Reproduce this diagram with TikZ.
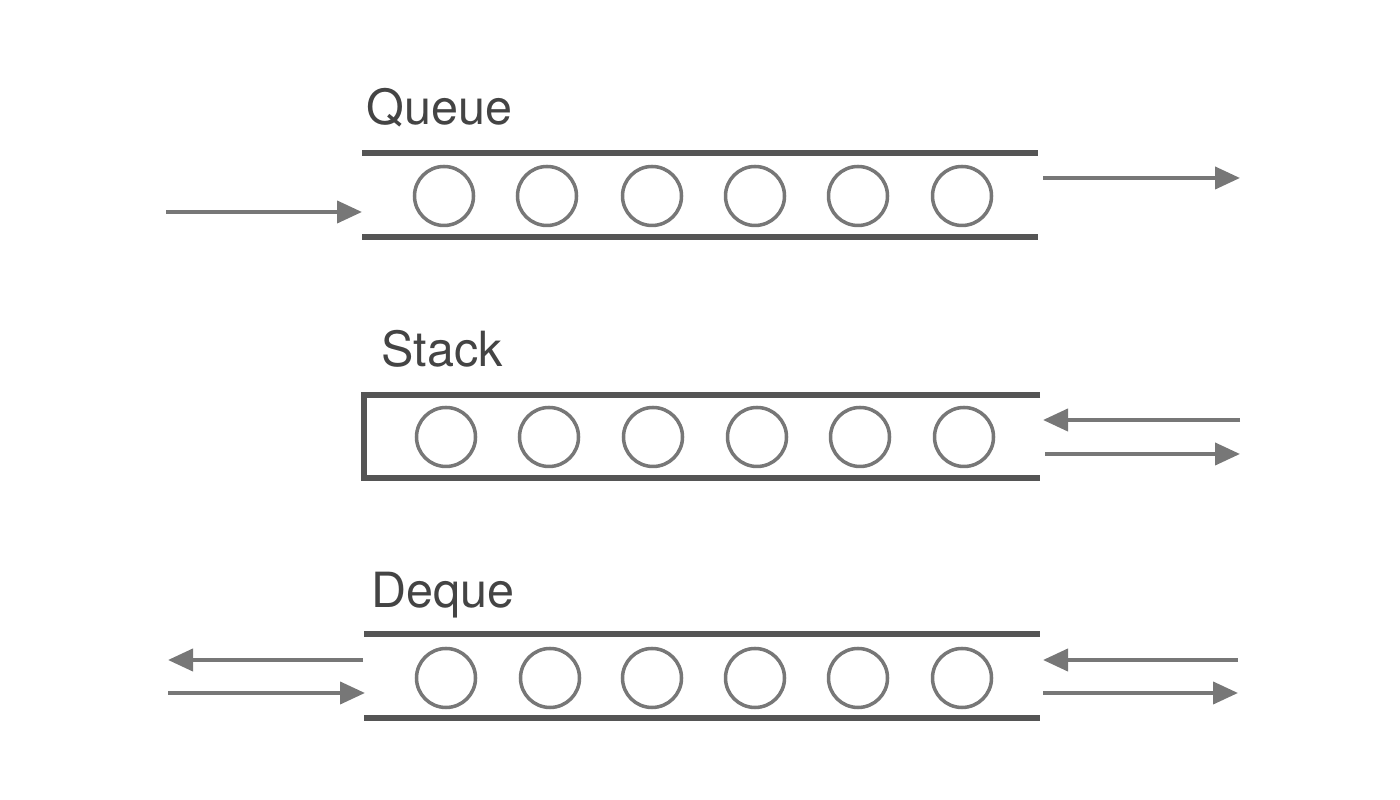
\documentclass[tikz,border=0pt]{standalone}
\usepackage{fontspec}
\setmainfont{TeX Gyre Heros}
\usetikzlibrary{arrows.meta}

\definecolor{wallgray}{HTML}{555555}
\definecolor{itemgray}{HTML}{777777}
\definecolor{labelgray}{HTML}{444444}

\tikzset{
  wall/.style={draw=wallgray, line width=1.7pt},
  item/.style={shape=circle, draw=itemgray, line width=1pt, minimum size=0.59cm, inner sep=0pt},
  flow/.style={draw=itemgray, line width=1.15pt, -{Triangle[length=2.5mm,width=2.2mm]}},
  title/.style={anchor=base west, text=labelgray, font=\fontsize{13.8}{16}\selectfont, inner sep=0pt}
}

\begin{document}
\begin{tikzpicture}
%%%%%%%%%%%%%%%%%%%%%%%%%%%%%%%%%%%%%%%%%%% HELP LINES
%\draw[help lines] (0,0) grid +(14,8);
\useasboundingbox (0,0) rectangle (14,8);

%%%%%%%%%%%%%%%%%%%%%%%%%%%%%%%%%%%%%%%%%%% queue
\node[title](queuelabel) at (3.66,6.75) {Queue};
\draw[wall] (3.62,6.47) -- (10.38,6.47);
\draw[wall] (3.62,5.63) -- (10.38,5.63);
\foreach \x [count=\i] in {4.44,5.47,6.52,7.55,8.58,9.62}
  \node[item](q\i) at (\x,6.04) {};
\coordinate (qinstart) at (1.66,5.88);
\coordinate (qinend) at (3.62,5.88);
\coordinate (qoutstart) at (10.43,6.22);
\coordinate (qoutend) at (12.40,6.22);
\draw[flow] (qinstart) -- (qinend);
\draw[flow] (qoutstart) -- (qoutend);

%%%%%%%%%%%%%%%%%%%%%%%%%%%%%%%%%%%%%%%%%%% stack
\node[title](stacklabel) at (3.81,4.33) {Stack};
\draw[wall] (10.40,4.05) -- (3.64,4.05) -- (3.64,3.22) -- (10.40,3.22);
\foreach \x [count=\i] in {4.46,5.49,6.53,7.57,8.60,9.64}
  \node[item](s\i) at (\x,3.63) {};
\coordinate (spushstart) at (12.40,3.80);
\coordinate (spushend) at (10.43,3.80);
\coordinate (spopstart) at (10.45,3.46);
\coordinate (spopend) at (12.40,3.46);
\draw[flow] (spushstart) -- (spushend);
\draw[flow] (spopstart) -- (spopend);

%%%%%%%%%%%%%%%%%%%%%%%%%%%%%%%%%%%%%%%%%%% deque
\node[title](dequelabel) at (3.71,1.92) {Deque};
\draw[wall] (3.64,1.66) -- (10.40,1.66);
\draw[wall] (3.64,0.82) -- (10.40,0.82);
\foreach \x [count=\i] in {4.46,5.50,6.52,7.55,8.58,9.62}
  \node[item](d\i) at (\x,1.22) {};
\coordinate (dleftin) at (3.63,1.40);
\coordinate (dleftout) at (1.68,1.40);
\coordinate (dleftfrom) at (1.68,1.07);
\coordinate (dleftto) at (3.65,1.07);
\coordinate (drightin) at (12.38,1.40);
\coordinate (drightout) at (10.43,1.40);
\coordinate (drightfrom) at (10.43,1.07);
\coordinate (drightto) at (12.38,1.07);
\draw[flow] (dleftin) -- (dleftout);
\draw[flow] (dleftfrom) -- (dleftto);
\draw[flow] (drightin) -- (drightout);
\draw[flow] (drightfrom) -- (drightto);
\end{tikzpicture}
\end{document}
